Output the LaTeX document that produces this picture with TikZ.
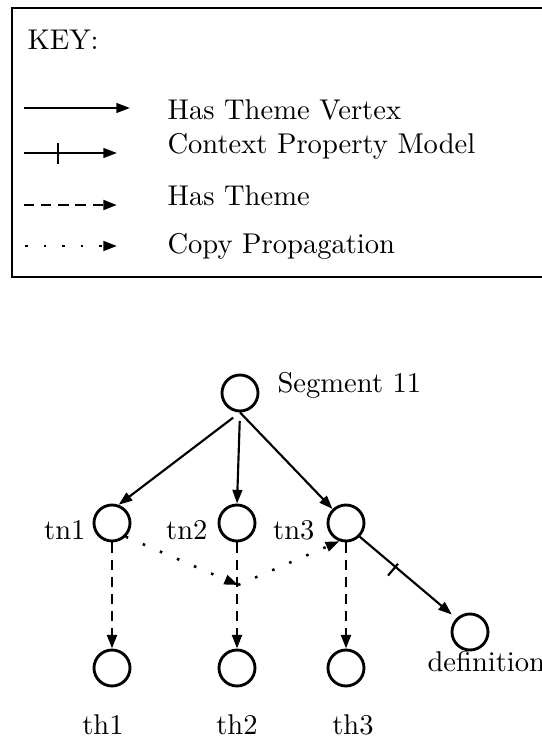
\documentclass[tikz,border=0pt]{standalone}
\usepackage{amsmath}
\usepackage{amssymb}
\usepackage{tikz}
\usetikzlibrary{arrows.meta,decorations.markings}

\tikzset{
  vertex/.style={draw, circle, line width=1pt, minimum size=12.6pt, inner sep=0pt},
  keytext/.style={anchor=west, inner sep=0pt},
  lefttext/.style={anchor=east, inner sep=0pt},
  bottomtext/.style={inner sep=0pt},
  triangletip/.style={-{Triangle[length=4.8pt,width=3.4pt]}},
  hasthemevertex/.style={triangletip, line width=0.75pt},
  contextprop/.style={hasthemevertex, postaction={decorate},
    decoration={markings, mark=at position 0.37 with {\draw[-, line width=0.75pt] (0,-4pt) -- (0,3.4pt);}}},
  hastheme/.style={triangletip, line width=1pt, dash pattern=on 3.6pt off 2.4pt},
  copyprop/.style={triangletip, line width=0.9pt, dash pattern=on 0.9pt off 5.6pt}
}

\begin{document}
\begin{tikzpicture}[x=0.35pt, y=-0.35pt]
        \useasboundingbox (0,0) rectangle (541,737);

        % Legenda
        \draw[line width=0.9pt] (12,8) rectangle (552,277); % cornice
        \node[keytext] (key) at (27,40) {KEY:};

        \coordinate (k1s) at (24,108);
        \coordinate (k1e) at (130,108);
        \draw[hasthemevertex] (k1s) -- (k1e);
        \node[keytext] (k1) at (167,110) {Has Theme Vertex};

        \coordinate (k2s) at (24,153);
        \coordinate (k2e) at (117,153);
        \draw[contextprop] (k2s) -- (k2e);
        \node[keytext] (k2) at (167,146) {Context Property Model};

        \coordinate (k3s) at (24,205);
        \coordinate (k3e) at (117,205);
        \draw[hastheme] (k3s) -- (k3e);
        \node[keytext] (k3) at (167,196) {Has Theme};

        \coordinate (k4s) at (25,246);
        \coordinate (k4e) at (117,246);
        \draw[copyprop] (k4s) -- (k4e);
        \node[keytext] (k4) at (167,246) {Copy Propagation};

        % Vertici
        \node[vertex] (seg) at (240,393) {};
        \node[keytext] (seglbl) at (277,385) {Segment 11};

        \node[vertex] (tn1) at (112,523) {};
        \node[vertex] (tn2) at (237,523) {};
        \node[vertex] (tn3) at (346,523) {};
        \node[lefttext] (tn1lbl) at (86,530) {tn1};
        \node[lefttext] (tn2lbl) at (208,530) {tn2};
        \node[lefttext] (tn3lbl) at (315,530) {tn3};

        \node[vertex] (th1) at (112,668) {};
        \node[vertex] (th2) at (237,668) {};
        \node[vertex] (th3) at (346,668) {};
        \node[bottomtext] (th1lbl) at (103,725) {th1};
        \node[bottomtext] (th2lbl) at (237,725) {th2};
        \node[bottomtext] (th3lbl) at (353,725) {th3};

        \node[vertex] (def) at (470,632) {};
        \node[keytext] (deflbl) at (427,662) {definition};

        % Archi
        \draw[hasthemevertex, shorten <=3pt] (seg.south) -- (tn1.70);
        \draw[hasthemevertex, shorten <=3pt] (seg.south) -- (tn2.north);
        \draw[hasthemevertex] (seg.south) -- (tn3);

        \draw[hastheme] (tn1.south) -- (th1.north);
        \draw[hastheme] (tn2.south) -- (th2.north);
        \draw[hastheme] (tn3.south) -- (th3.north);

        \draw[contextprop, shorten >=2pt] (tn3.south east) -- (def.north west);

        \coordinate (cp) at (238,585); % punto sull'arco di th2
        \draw[copyprop] (tn1.south east) -- (cp);
        \draw[copyprop] (cp) -- (tn3.250);
\end{tikzpicture}
\end{document}
